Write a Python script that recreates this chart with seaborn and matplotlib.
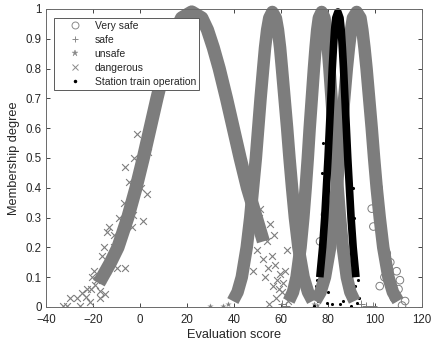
import matplotlib
matplotlib.use("Agg")
import matplotlib.pyplot as plt
from matplotlib.lines import Line2D
from matplotlib.ticker import FuncFormatter
import seaborn as sns

# membership levels along each cloud band (left side up, peak, right side down)
degree_path = [0.02, 0.05, 0.1, 0.2, 0.3, 0.4, 0.5, 0.6, 0.7, 0.8, 0.87, 0.93, 0.97, 0.99,
               0.97, 0.93, 0.87, 0.8, 0.7, 0.6, 0.5, 0.4, 0.3, 0.2, 0.1, 0.05, 0.02]

# band centre lines (evaluation score)
very_safe_x = [74.6, 76.8, 78.7, 80.9, 82.4, 83.7, 84.8, 85.8, 86.9, 88.0, 88.9, 89.8, 90.6, 92.2,
               93.8, 94.6, 95.5, 96.4, 97.5, 98.6, 99.6, 100.7, 102.0, 103.5, 105.7, 107.6, 109.8]
safe_x = [63.3, 65.1, 66.6, 68.3, 69.5, 70.5, 71.4, 72.2, 73.1, 74.0, 74.7, 75.4, 76.1, 77.3,
          78.5, 79.2, 79.9, 80.6, 81.5, 82.4, 83.2, 84.1, 85.1, 86.3, 88.0, 89.5, 91.3]
unsafe_x = [39.5, 41.5, 43.3, 45.4, 46.9, 48.1, 49.3, 50.3, 51.3, 52.4, 53.2, 54.1, 55.0, 56.3,
            57.8, 58.7, 59.6, 60.4, 61.5, 62.6, 63.6, 64.7, 65.9, 67.4, 69.6, 71.5, 73.5]

dangerous_deg = [0.08, 0.15, 0.2, 0.3, 0.4, 0.5, 0.6, 0.7, 0.8, 0.87, 0.93, 0.97, 0.99,
                 0.97, 0.93, 0.87, 0.8, 0.7, 0.6, 0.5, 0.4, 0.3, 0.22]
dangerous_x = [-17.5, -12.5, -9.4, -5.2, -1.7, 1.4, 4.3, 7.2, 10.3, 12.8, 15.3, 17.7, 22.0,
               26.3, 28.7, 31.2, 33.7, 36.8, 39.7, 42.6, 45.7, 49.5, 52.5]

station_deg = [0.1, 0.2, 0.3, 0.4, 0.5, 0.6, 0.7, 0.8, 0.87, 0.93, 0.97, 0.99,
               0.97, 0.93, 0.87, 0.8, 0.7, 0.6, 0.5, 0.4, 0.3, 0.2, 0.1]
station_x = [76.5, 77.7, 78.6, 79.3, 80.0, 80.6, 81.2, 81.8, 82.3, 82.8, 83.3, 84.2,
             85.1, 85.6, 86.1, 86.6, 87.2, 87.8, 88.4, 89.1, 89.8, 90.7, 91.9]

# loose drops that stand out of the bands
very_safe_pts_x = [105.0, 109.2, 110.6, 112.8, 102.0, 99.3, 98.6, 78.7, 78.0, 76.6, 107.0, 111.5,
                   104.0, 103.0, 108.0, 106.5, 101.5, 110.0]
very_safe_pts_y = [0.18, 0.12, 0.09, 0.02, 0.07, 0.27, 0.33, 0.31, 0.19, 0.22, 0.05, 0.005,
                   0.1, 0.22, 0.03, 0.15, 0.4, 0.06]
safe_pts_x = [96.0, 99.0, 94.0, 60.5, 62.0]
safe_pts_y = [0.005, 0.004, 0.01, 0.01, 0.004]
unsafe_pts_x = [29.8, 35.5, 37.5, 75.5, 74.0]
unsafe_pts_y = [0.002, 0.004, 0.01, 0.006, 0.01]
dangerous_pts_x = [-32.8, -31.0, -29.8, -27.0, -25.5, -24.8, -21.3, -17.0, -17.0, -20.6, -16.3, -14.2,
                   -13.0, -6.4, 1.3, 2.8, -1.4, -6.4, -22.5, -19.0, -15.0, -23.0, -19.5, -11.0,
                   -21.0, -18.5, -16.0, -14.0, -12.0, -15.5, -11.0, -8.0, -9.0, -3.0, -7.0,
                   -4.5, 0.5, -2.5, 3.5, -3.5, -10.0,
                   51.0, 55.3, 49.7, 52.5, 62.4, 59.6, 56.6, 48.0, 54.0, 57.5, 53.0, 60.5, 58.0,
                   63.0, 55.0, 52.0, 57.0, 50.5, 61.0, 56.0, 58.5, 54.5, 59.0, 61.5]
dangerous_pts_y = [0.003, 0.003, 0.03, 0.03, 0.005, 0.047, 0.016, 0.03, 0.055, 0.1, 0.17, 0.25,
                   0.27, 0.13, 0.29, 0.38, 0.58, 0.47, 0.06, 0.075, 0.045, 0.035, 0.12, 0.2,
                   0.06, 0.09, 0.09, 0.12, 0.17, 0.2, 0.24, 0.22, 0.3, 0.31, 0.35,
                   0.42, 0.4, 0.5, 0.52, 0.27, 0.13,
                   0.33, 0.28, 0.19, 0.16, 0.19, 0.11, 0.07, 0.12, 0.22, 0.14, 0.1, 0.05, 0.03,
                   0.02, 0.01, 0.25, 0.24, 0.3, 0.08, 0.17, 0.09, 0.13, 0.06, 0.12]
station_pts_x = [75.2, 75.9, 78.0, 79.4, 80.9, 90.8, 92.2, 89.4, 88.0, 85.1, 74.0, 76.5, 77.5, 78.5,
                 77.0, 79.8, 91.5, 90.0, 87.5, 93.0, 89.8, 88.8, 73.5, 79.0, 76.0, 77.5, 78.0,
                 91.0, 90.5, 74.8, 92.8, 86.5, 81.5]
station_pts_y = [0.09, 0.02, 0.12, 0.013, 0.17, 0.035, 0.012, 0.1, 0.16, 0.01, 0.005, 0.06, 0.04,
                 0.08, 0.15, 0.05, 0.07, 0.14, 0.19, 0.03, 0.005, 0.06, 0.03, 0.18, 0.11, 0.45,
                 0.55, 0.3, 0.4, 0.07, 0.09, 0.02, 0.01]

x_ticks = [-40, -20, 0, 20, 40, 60, 80, 100, 120]
y_ticks = [0, 0.1, 0.2, 0.3, 0.4, 0.5, 0.6, 0.7, 0.8, 0.9, 1.0]
labels = ["Very safe", "safe", "unsafe", "dangerous", "Station train operation"]

gray = "#7d7d7d"

sns.set_style("ticks")
plt.rcParams["font.family"] = ["Liberation Sans", "DejaVu Sans"]

fig = plt.figure(figsize=(4.34, 3.47), dpi=100)
ax = fig.add_axes([0.106, 0.1153, 0.8664, 0.8588])

band_kw = dict(sort=False, estimator=None, legend=False, ax=ax,
               solid_capstyle="butt", solid_joinstyle="round", clip_on=False)

sns.lineplot(x=very_safe_x, y=degree_path, color=gray, linewidth=9, **band_kw)
sns.lineplot(x=safe_x, y=degree_path, color=gray, linewidth=9, **band_kw)
sns.lineplot(x=unsafe_x, y=degree_path, color=gray, linewidth=9, **band_kw)
sns.lineplot(x=dangerous_x, y=dangerous_deg, color=gray, linewidth=9.5, **band_kw)

sns.scatterplot(x=very_safe_pts_x, y=very_safe_pts_y, marker="o", s=30,
                facecolors="none", edgecolor=gray, linewidth=0.7, ax=ax)
sns.scatterplot(x=safe_pts_x, y=safe_pts_y, marker="+", s=30, color=gray, linewidth=0.7, ax=ax)
sns.scatterplot(x=unsafe_pts_x, y=unsafe_pts_y, marker="*", s=30, color=gray, linewidth=0.3, ax=ax)
sns.scatterplot(x=dangerous_pts_x, y=dangerous_pts_y, marker="x", s=24, color=gray, linewidth=0.8, ax=ax)

sns.lineplot(x=station_x, y=station_deg, color="black", linewidth=5.5, **band_kw)
sns.scatterplot(x=station_pts_x, y=station_pts_y, marker="o", s=5, color="black", linewidth=0, ax=ax)

# legend, same order as the original
leg_gray = "#8a8a8a"
handles = [
    Line2D([], [], ls="none", marker="o", mfc="none", mec=leg_gray, ms=5, mew=0.7),
    Line2D([], [], ls="none", marker="+", color=leg_gray, ms=5, mew=0.7),
    Line2D([], [], ls="none", marker="*", color=leg_gray, ms=5, mew=0.3),
    Line2D([], [], ls="none", marker="x", color=leg_gray, ms=4.5, mew=0.7),
    Line2D([], [], ls="none", marker=".", color="black", ms=3),
]
leg = ax.legend(handles, labels, loc="upper left", bbox_to_anchor=(0.021, 0.97),
                borderaxespad=0, fontsize=7.5, frameon=True, fancybox=False,
                framealpha=1, edgecolor="#5a5a5a", handlelength=3.4, handletextpad=0.2,
                labelspacing=0.38, borderpad=0.3)
leg.get_frame().set_linewidth(0.7)
leg.set_zorder(10)

ax.set_xlim(-40, 120)
ax.set_ylim(0, 1)
ax.set_xticks(x_ticks)
ax.set_yticks(y_ticks)
ax.yaxis.set_major_formatter(FuncFormatter(lambda v, p: f"{v:g}"))
ax.tick_params(direction="in", length=3, width=0.6, labelsize=8.3, colors="#262626",
               top=True, right=True, pad=3)
ax.tick_params(axis="x", pad=5)
for sp in ax.spines.values():
    sp.set_visible(True)
    sp.set_color("#6a6a6a")
    sp.set_linewidth(0.7)

ax.set_xlabel("Evaluation score", fontsize=9.2, color="#262626", labelpad=2)
ax.set_ylabel("Membership degree", fontsize=9.2, color="#262626", labelpad=4)

fig.savefig("out.png", dpi=100)
